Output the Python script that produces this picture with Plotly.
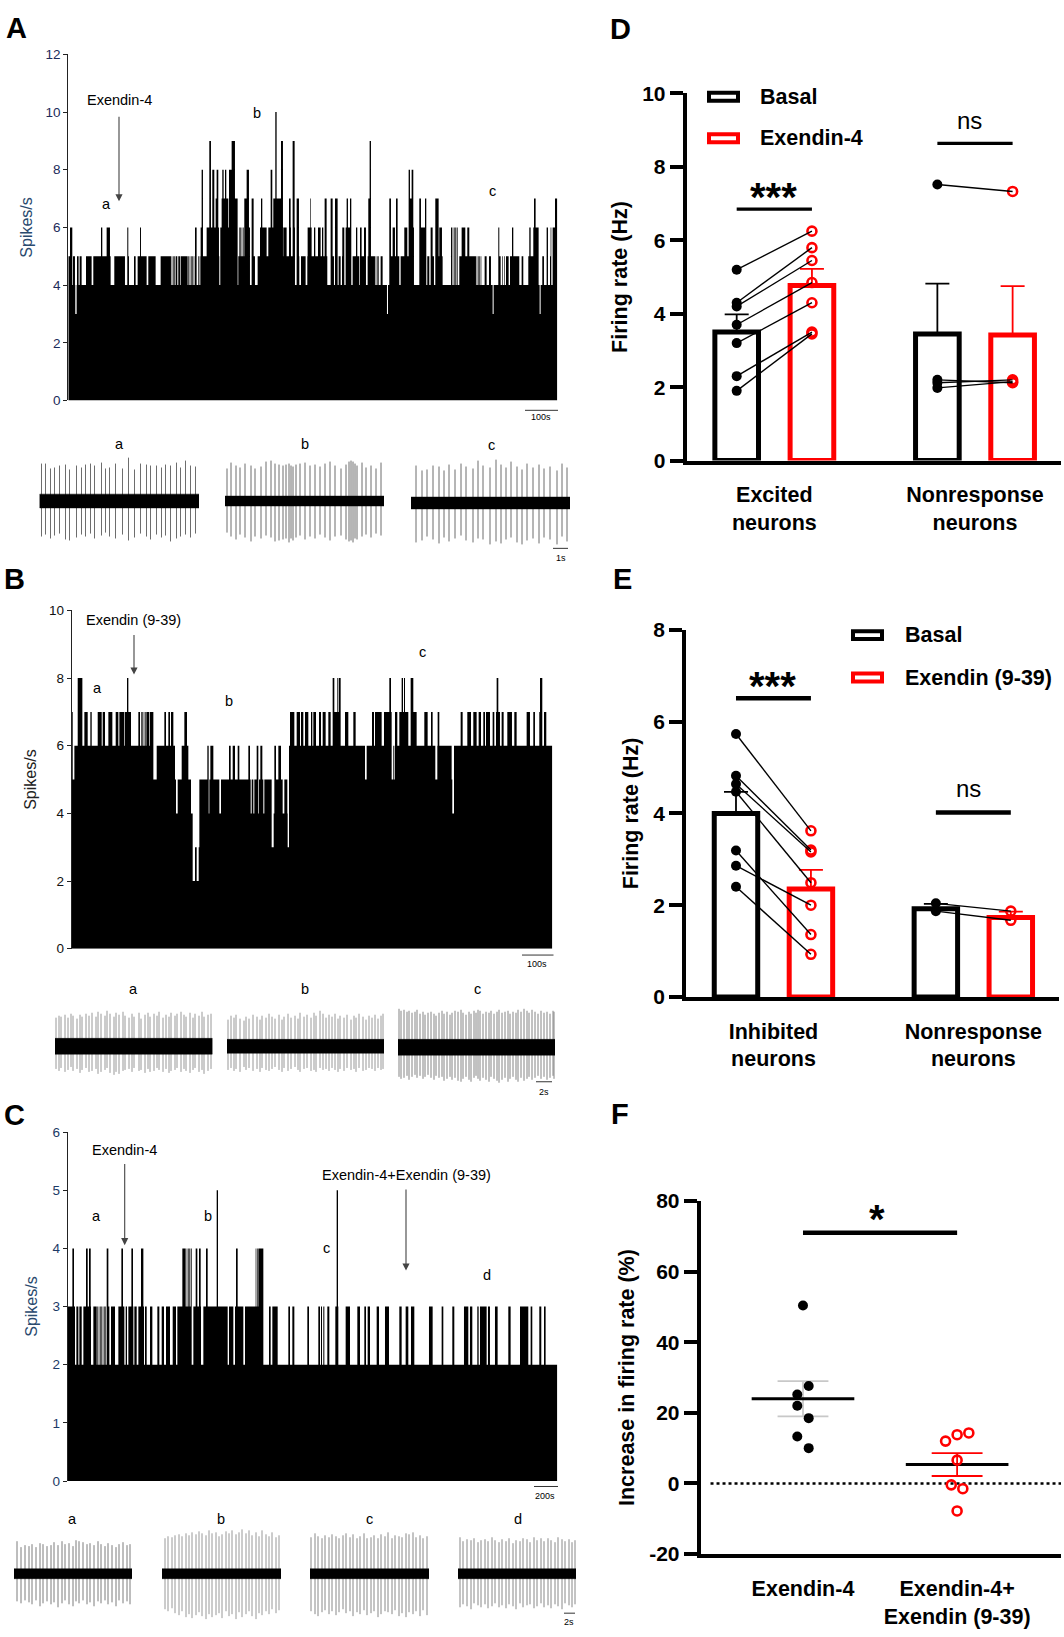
import numpy as np
import plotly.graph_objects as go

W, H = 1064, 1637
FONT = "Liberation Sans"

# ---------- histograms: runs (start, end) of seconds where rate reaches a level
A_BASE = 4
A1_L5 = [(10,22),(24,30),(36,41),(44,50),(63,80),(85,137),(148,180),(187,192),(207,212),(218,245),(250,272),(287,318),(320,322),(324,326),(328,330),(332,337),(340,345),(347,368),(370,372),(374,376),(378,380),(382,384),(386,388),(390,395),(400,402),(404,406),(407,463),(466,518),(520,522),(524,526),(528,530),(532,555),(560,570),(578,690),(695,703),(708,722),(727,750)]
A1_L6 = [(15,22),(108,112),(125,135),(187,190),(225,228),(390,395),(407,413),(425,462),(466,518),(522,524),(526,528),(530,532),(534,536),(538,555),(560,566),(585,605),(610,650),(655,665),(672,678),(683,690),(697,702),(728,740)]
A1_L7 = [(433,438),(452,460),(470,490),(492,512),(512,518),(538,552),(560,566),(588,592),(617,622),(625,650),(672,677),(683,689),(695,702)]
A1_L8 = [(410,414),(433,438),(442,448),(455,460),(472,476),(480,484),(492,510),(545,552),(617,622),(631,635),(648,654),(683,689)]
A1_L9 = [(433,438),(500,510),(631,635),(648,654),(683,689)]
A1_L10 = [(631,635)]
A1_L3 = [(31,35)]
A2_L5 = [(0,52),(62,72),(75,83),(86,92),(96,103),(107,122),(128,148),(153,168),(173,195),(197,199),(201,203),(205,207),(212,218),(240,268),(272,312),(328,348),(352,358),(362,372),(378,398),(424,426),(428,430),(432,434),(436,438),(440,442),(448,498),(500,502),(504,506),(508,510),(512,514),(524,530),(537,543),(568,572),(576,578),(582,584),(588,596),(600,628),(635,640),(655,680),(697,702),(720,724),(728,742)]
A2_L6 = [(0,4),(12,16),(24,32),(36,40),(44,50),(62,68),(75,83),(97,103),(107,122),(138,142),(150,155),(162,168),(175,182),(238,243),(248,255),(258,263),(283,292),(296,312),(328,345),(362,368),(376,385),(388,396),(423,426),(428,430),(432,434),(436,438),(440,443),(455,466),(472,478),(565,568),(606,610),(658,662),(670,686),(710,714),(722,724),(728,742)]
A2_L7 = [(0,2),(44,50),(62,68),(75,83),(110,114),(120,124),(175,182),(238,243),(258,263),(296,310),(328,333),(345,349),(376,386),(672,677),(735,742)]
A2_L8 = [(296,300),(305,310),(179,183)]
A2_L9 = [(179,183)]
A2_L3 = [(231,234),(548,551),(689,692)]

B_BASE = 2
B1_L3 = [(20,383),(390,395),(401,750)]
B1_L4 = [(20,383),(403,620),(626,668),(672,750)]
B1_L5 = [(20,333),(338,378),(403,430),(433,463),(468,557),(560,565),(568,578),(582,595),(598,620),(628,653),(658,667),(672,750)]
B1_L6 = [(20,23),(28,265),(275,330),(350,370),(427,431),(436,445),(492,497),(503,510),(518,523),(550,555),(575,580),(586,592),(628,633),(640,648),(672,750)]
B1_L7 = [(20,23),(38,52),(58,68),(76,80),(98,110),(113,120),(130,142),(152,160),(163,178),(180,198),(220,225),(228,230),(232,234),(236,238),(240,242),(244,252),(254,265),(298,303),(310,315),(318,325),(358,366),(675,688),(695,705),(708,715),(720,730),(735,745)]
B1_L8 = [(38,52),(186,190)]
B2_L3 = [(0,727)]
B2_L4 = [(0,727)]
B2_L5 = [(0,427),(432,727)]
B2_L6 = [(0,165),(170,245),(250,253),(257,376),(382,425),(432,475),(480,727)]
B2_L7 = [(3,7),(10,18),(27,33),(38,47),(55,62),(68,90),(105,115),(130,137),(186,192),(195,215),(222,245),(255,262),(268,295),(302,320),(343,353),(363,368),(383,388),(452,458),(472,483),(490,500),(506,513),(520,525),(528,540),(548,553),(558,570),(575,581),(592,606),(613,620),(650,660),(670,675),(688,697),(702,709)]
B2_L8 = [(68,73),(82,85),(87,92),(238,243),(275,279),(282,285),(302,310),(560,565),(690,697)]

C_BASE = 2
C1_L3 = [(8,30),(34,40),(43,50),(55,65),(68,78),(85,95),(97,99),(101,103),(105,107),(109,111),(113,115),(117,119),(121,123),(125,133),(138,150),(160,178),(182,186),(190,205),(208,215),(220,237),(240,245),(255,262),(277,283),(290,297),(303,315),(323,333),(337,355),(360,380),(385,408),(415,488),(492,505),(510,535),(540,595),(612,617),(622,638),(670,675),(682,688),(727,732)]
C1_L4 = [(22,27),(63,68),(72,77),(125,130),(169,174),(199,204),(228,235),(352,362),(365,367),(369,371),(373,375),(377,380),(392,397),(402,407),(423,428),(455,459),(513,518),(572,574),(576,578),(580,595)]
C1_L5 = [(455,459)]
C2_L3 = [(25,30),(33,36),(40,43),(52,58),(76,85),(107,120),(142,150),(163,168),(173,180),(200,207),(225,237),(268,275),(287,295),(303,313),(357,368),(395,400),(427,433),(462,475),(480,487),(502,506),(510,530),(534,540),(555,563),(595,602),(630,655),(662,667),(688,694),(702,707)]
C2_L4 = [(80,84)]
C2_L5 = [(80,84)]

# ---------- recordings: spike time, up and down amplitude
Aa_t = [2,6,11,15,20,26,30,37,42,46,51,55,62,66,70,76,83,89,95,101,107,111,117,122,126,131,137,141,146,151,156]
Aa_u = [38,38,33,34,36,37,32,36,34,37,38,36,39,33,34,38,33,44,32,38,37,36,36,34,37,36,39,34,41,36,35]
Aa_d = [36,34,38,35,33,39,40,37,34,36,33,38,35,32,36,38,34,40,37,33,36,39,34,37,35,41,38,36,34,37,33]
Ab_t = [2,6,11,15,20,26,30,36,41,46,50,54,58,61,64,66,68,71,75,80,85,90,95,100,105,110,116,121,124,126,128,130,132,137,141,146,151,156]
Ab_u = [33,39,36,34,38,36,33,35,40,41,38,37,36,37,38,36,35,37,38,39,36,37,35,38,40,36,33,37,40,41,40,38,36,39,34,36,33,39]
Ab_d = [32,36,39,34,37,41,36,38,35,37,41,40,39,38,42,38,40,37,35,39,36,38,34,37,40,36,35,39,41,40,42,38,39,36,34,37,33,35]
Ac_t = [5,11,16,22,28,33,38,44,50,55,62,67,72,79,85,90,95,100,106,111,116,122,128,133,139,146,151,156]
Ac_u = [38,33,34,38,37,33,39,34,40,37,35,43,38,36,44,39,36,42,37,34,40,36,39,35,37,33,40,36]
Ac_d = [40,38,34,37,41,35,39,36,33,38,40,36,37,42,39,41,37,35,40,42,38,36,41,35,37,42,34,39]

Ba_t = [1,4,6,10,13,16,18,22,25,27,31,34,37,41,43,46,50,52,55,59,61,64,68,70,74,77,79,84,86,90,93,95,99,102,104,108,111,114,116,120,122,126,129,131,135,138,140,144,147,149,153,156]
Ba_u = [29,31,30,32,29,33,31,28,32,30,33,31,34,30,35,33,31,36,33,30,34,32,35,31,29,33,30,34,28,32,34,30,33,31,35,29,32,30,34,31,33,35,32,30,34,29,33,31,35,30,32,33]
Ba_d = [23,25,22,26,24,21,25,23,27,24,22,26,25,23,28,26,24,22,27,29,26,28,25,24,23,26,22,25,24,27,23,26,25,22,24,26,23,27,25,24,22,26,23,25,27,24,22,26,24,28,25,23]
Bb_t = [1,4,7,9,13,17,19,22,26,30,33,35,39,42,45,48,52,55,57,61,64,68,71,73,77,80,84,87,89,93,96,99,102,105,108,111,113,117,120,124,127,129,132,136,139,142,145,148,151,154,156]
Bb_u = [27,31,29,32,28,26,30,28,32,30,27,31,29,33,30,28,32,27,30,33,29,31,28,34,30,32,29,34,31,36,33,29,32,30,33,28,31,29,32,27,31,29,33,30,27,31,29,32,28,31,33]
Bb_d = [24,22,25,23,26,21,24,22,25,23,26,22,24,25,23,21,24,26,22,25,23,21,24,26,23,22,25,24,26,22,24,23,25,22,24,26,23,25,22,24,23,26,22,25,24,22,23,25,22,24,23]
Bc_t = [1,3,6,9,11,14,17,19,22,25,27,30,33,36,38,41,44,46,49,52,54,57,60,63,65,68,71,73,76,78,80,82,85,88,91,93,96,99,101,104,107,110,112,115,118,120,123,126,129,131,134,137,140,143,146,149,152,155,156]
Bc_u = [39,37,38,36,37,35,36,38,34,36,33,35,36,34,32,35,37,34,36,33,35,37,36,38,35,33,36,34,37,35,38,37,34,36,35,37,34,36,38,35,36,37,34,36,35,38,36,39,37,35,38,36,34,37,35,36,34,37,36]
Bc_d = [30,32,31,29,33,30,28,31,29,32,30,28,31,33,29,31,30,34,32,30,33,31,34,35,32,30,33,35,31,29,32,34,31,33,35,30,32,34,36,33,31,35,32,30,33,35,31,34,32,30,33,31,29,32,30,33,31,29,32]

Ca_t = [3,7,11,15,18,22,26,29,33,37,40,44,48,51,55,59,62,65,69,73,76,80,84,87,91,94,98,102,105,109,113,116]
Ca_u = [33,27,29,28,30,27,31,30,28,29,32,29,33,30,31,28,34,33,32,30,31,29,33,30,28,31,29,27,30,32,29,30]
Ca_d = [28,30,27,29,31,27,33,30,28,31,29,34,30,27,31,33,28,30,27,31,29,33,28,30,27,31,29,33,27,30,28,31]
Cb_t = [3,6,10,13,17,20,24,27,30,34,37,40,44,47,50,54,57,60,64,67,70,74,77,80,84,87,90,94,97,100,104,107,110,114,117]
Cb_u = [36,38,37,39,40,38,41,39,42,40,43,41,39,44,41,42,38,40,43,41,44,40,42,45,41,44,39,42,38,44,40,38,42,37,39]
Cb_d = [36,38,35,40,42,38,44,41,45,42,39,43,46,41,44,42,40,45,38,43,41,46,39,44,41,38,43,46,40,42,38,41,36,40,37]
Cc_t = [1,5,8,12,15,19,22,26,29,33,36,40,43,47,50,54,57,61,64,68,71,75,78,82,85,89,92,96,99,103,106,110,113,117]
Cc_u = [37,41,38,36,39,37,40,38,36,39,41,37,40,36,38,41,36,37,39,36,40,38,42,36,39,38,37,41,40,42,37,39,36,38]
Cc_d = [38,41,43,39,37,41,38,42,39,36,40,38,43,39,41,37,42,40,38,44,41,38,39,41,37,43,40,44,39,41,38,43,37,42]
Cd_t = [2,5,9,13,16,20,23,27,30,34,37,41,44,48,51,55,58,62,65,69,72,76,79,83,86,90,93,97,100,104,107,111,114,117]
Cd_u = [37,33,35,34,36,32,34,35,33,37,34,32,35,33,36,31,34,33,36,35,32,37,34,36,33,36,34,32,37,35,33,35,32,34]
Cd_d = [34,31,33,36,30,32,34,31,35,33,30,34,32,35,31,33,36,30,34,32,31,35,33,30,34,32,35,31,33,36,30,32,34,31]

# ---------- panel D
D_groups = ["Excited<br>neurons", "Nonresponse<br>neurons"]
D_basal_mean = [3.5, 3.45]
D_basal_sem = [0.48, 1.37]
D_drug_mean = [4.77, 3.42]
D_drug_sem = [0.45, 1.33]
D_exc_basal = [5.2, 4.3, 4.2, 3.7, 3.2, 2.3, 1.9]
D_exc_drug = [6.25, 5.8, 5.45, 4.85, 4.3, 3.5, 3.45]
D_nr_basal = [7.52, 2.2, 2.12, 1.98]
D_nr_drug = [7.33, 2.12, 2.2, 2.15]
# ---------- panel E
E_groups = ["Inhibited<br>neurons", "Nonresponse<br>neurons"]
E_basal_mean = [4.0, 1.92]
E_basal_sem = [0.47, 0.11]
E_drug_mean = [2.35, 1.73]
E_drug_sem = [0.42, 0.13]
E_inh_basal = [5.73, 4.82, 4.64, 4.47, 3.19, 2.86, 2.40]
E_inh_drug = [3.62, 3.2, 3.16, 2.49, 1.36, 2.0, 0.93]
E_nr_basal = [2.04, 1.87]
E_nr_drug = [1.87, 1.67]
# ---------- panel F
F_groups = ["Exendin-4", "Exendin-4+<br>Exendin (9-39)"]
F_a_x = [0, 0.037, -0.037, -0.037, 0.037, -0.037, 0.037]
F_a_y = [50.4, 27.6, 25.2, 22, 18.5, 13.3, 10]
F_b_x = [0.925, 1, 1.076, 1, 0.962, 1.037, 1]
F_b_y = [12, 13.8, 14.3, 6.6, -0.4, -1.5, -7.8]
F_means = [24, 5.4]
F_sem_hi = [29, 8.6]
F_sem_lo = [19, 2.1]
RED = "#ff0000"

def fx(x): return x / W
def fy(y): return 1 - y / H

fig = go.Figure()
axes = {}
n_axes = 0
def new_axes(x0, x1, y_top, y_bot, xopt, yopt):
    global n_axes
    n_axes += 1
    s = "" if n_axes == 1 else str(n_axes)
    axes["xaxis" + s] = dict(domain=[fx(x0), fx(x1)], anchor="y" + s, **xopt)
    axes["yaxis" + s] = dict(domain=[fy(y_bot), fy(y_top)], anchor="x" + s, **yopt)
    return "x" + s, "y" + s

def levels(n, base, parts):
    y = np.full(n, base, dtype=float)
    for off, level, runs in parts:
        for s, e in runs:
            a, b = max(s + off, 0), min(e + off, n)
            if level < base or level <= y[a:b].min() and False:
                y[a:b] = level
            else:
                y[a:b] = np.maximum(y[a:b], level)
    return y

def hist_panel(x0, x1, top, bot, ymax, dtick, n, y, title, tickcol, titlecol, standoff):
    xo = dict(range=[0, n], visible=False, fixedrange=True)
    yo = dict(range=[0, ymax], dtick=dtick, showline=True, linecolor="#222", linewidth=1,
              ticks="outside", ticklen=4, tickcolor="#222", showgrid=False, zeroline=False,
              tickfont=dict(family=FONT, size=13.5, color=tickcol),
              title=dict(text=title, font=dict(family=FONT, size=16, color=titlecol), standoff=standoff))
    xa, ya = new_axes(x0, x1, top, bot, xo, yo)
    fig.add_trace(go.Scatter(x=np.arange(n + 1), y=np.append(y, y[-1]), mode="lines", xaxis=xa, yaxis=ya,
                             line=dict(shape="hv", width=0, color="black"), fill="tozeroy",
                             fillcolor="black", showlegend=False, hoverinfo="skip"))

# A
nA = 1467
yA = levels(nA, A_BASE, [(-10, 5, A1_L5), (-10, 6, A1_L6), (-10, 7, A1_L7), (-10, 8, A1_L8), (-10, 9, A1_L9), (-10, 10, A1_L10),
                         (725, 5, A2_L5), (725, 6, A2_L6), (725, 7, A2_L7), (725, 8, A2_L8), (725, 9, A2_L9)])
for off, runs in [(-10, A1_L3), (725, A2_L3)]:
    for s, e in runs:
        yA[s + off:e + off] = 3
hist_panel(68.3, 557.3, 43, 394, 12, 2, nA, yA, "Spikes/s", "#1c2b5a", "#2a4a6e", 8)
# B
nB = 1442
yB = levels(nB, B_BASE, [(-20, 3, B1_L3), (-20, 4, B1_L4), (-20, 5, B1_L5), (-20, 6, B1_L6), (-20, 7, B1_L7), (-20, 8, B1_L8)])
yB2 = levels(nB, B_BASE, [(715, 3, B2_L3), (715, 4, B2_L4), (715, 5, B2_L5), (715, 6, B2_L6), (715, 7, B2_L7), (715, 8, B2_L8)])
yB[715:] = yB2[715:]
hist_panel(71.7, 552.3, 607, 950, 10, 2, nB, yB, "Spikes/s", "#111", "#222", 8)
# C
nC = 1469
yC = levels(nC, C_BASE, [(-8, 3, C1_L3), (-8, 4, C1_L4), (-8, 5, C1_L5), (727, 3, C2_L3), (727, 4, C2_L4), (727, 5, C2_L5)])
hist_panel(67.7, 557.3, 1136, 1490, 6, 1, nC, yC, "Spikes/s", "#1c3a66", "#2a4a6e", 10)

# recordings
def rec_panel(x0, x1, cy, band, t, u, d, color):
    w = x1 - x0
    xa, ya = new_axes(x0, x1, cy - 50, cy + 50, dict(range=[0, w], visible=False, fixedrange=True),
                      dict(range=[-50, 50], visible=False, fixedrange=True))
    xs, ys = [], []
    for ti, ui, di in zip(t, u, d):
        xs += [ti, ti, None]
        ys += [ui, -di, None]
    fig.add_trace(go.Scatter(x=xs, y=ys, mode="lines", xaxis=xa, yaxis=ya, line=dict(color=color, width=0.9),
                             showlegend=False, hoverinfo="skip"))
    fig.add_trace(go.Scatter(x=[0, w, w, 0, 0], y=[band, band, -band, -band, band], mode="lines", xaxis=xa, yaxis=ya,
                             line=dict(color="black", width=0.5), fill="toself", fillcolor="black",
                             showlegend=False, hoverinfo="skip"))

rec_panel(39.5, 199, 496, 7, Aa_t, Aa_u, Aa_d, "#5c5c5c")
rec_panel(225, 384, 496, 5, Ab_t, Ab_u, Ab_d, "#5c5c5c")
rec_panel(411, 570, 498, 6, Ac_t, Ac_u, Ac_d, "#5c5c5c")
rec_panel(55, 212.5, 1049, 8, Ba_t, Ba_u, Ba_d, "#8c8c8c")
rec_panel(227, 384, 1049, 7, Bb_t, Bb_u, Bb_d, "#8c8c8c")
rec_panel(398, 555, 1050, 8, Bc_t, Bc_u, Bc_d, "#777777")
rec_panel(14, 132, 1584, 5, Ca_t, Ca_u, Ca_d, "#6e6e6e")
rec_panel(162, 281, 1584, 5, Cb_t, Cb_u, Cb_d, "#8c8c8c")
rec_panel(310, 429, 1584, 5, Cc_t, Cc_u, Cc_d, "#7c7c7c")
rec_panel(458, 576, 1584, 5, Cd_t, Cd_u, Cd_d, "#7c7c7c")

BOLD = dict(family=FONT, size=21.5, color="black", weight=700)
def bold_axis_common():
    return dict(showline=True, linecolor="black", linewidth=3.5, showgrid=False, zeroline=False, fixedrange=True)

def bar_panel(x0, x1, top, bot, ymax, dtick, rng, groups, bm, bs, dm, ds, pairs, title):
    xo = dict(range=rng, tickmode="array", tickvals=[0.5, 3.167], ticktext=groups, ticks="outside", ticklen=12,
              tickcolor="rgba(0,0,0,0)", tickfont=BOLD, **bold_axis_common())
    yo = dict(range=[0, ymax], dtick=dtick, ticks="outside", ticklen=13, tickwidth=3.5, tickcolor="black",
              tickfont=dict(family=FONT, size=21, color="black", weight=700),
              title=dict(text=title, font=BOLD, standoff=10), **bold_axis_common())
    xa, ya = new_axes(x0, x1, top, bot, xo, yo)
    for xs, m, s, c in [([0, 2.667], bm, bs, "black"), ([1, 3.667], dm, ds, RED)]:
        fig.add_trace(go.Bar(x=xs, y=m, width=0.58, xaxis=xa, yaxis=ya, marker=dict(color="rgba(255,255,255,0)", line=dict(color=c, width=5)),
                             error_y=dict(type="data", symmetric=False, array=s, arrayminus=[0, 0], color=c, thickness=1.8, width=12),
                             showlegend=False, hoverinfo="skip"))
    for x_a, x_b, ya_vals, yb_vals in pairs:
        lx, ly = [], []
        for a, b in zip(ya_vals, yb_vals):
            lx += [x_a, x_b, None]
            ly += [a, b, None]
        fig.add_trace(go.Scatter(x=[x_b] * len(yb_vals), y=yb_vals, mode="markers", xaxis=xa, yaxis=ya,
                                 marker=dict(size=9, color="rgba(255,255,255,0)", line=dict(color=RED, width=2.6)), showlegend=False, hoverinfo="skip"))
        fig.add_trace(go.Scatter(x=[x_a] * len(ya_vals), y=ya_vals, mode="markers", xaxis=xa, yaxis=ya,
                                 marker=dict(size=10, color="black"), showlegend=False, hoverinfo="skip"))
        fig.add_trace(go.Scatter(x=lx, y=ly, mode="lines", xaxis=xa, yaxis=ya, line=dict(color="black", width=1.4),
                                 showlegend=False, hoverinfo="skip"))
    return xa, ya

def sig(xa, ya, x0, x1, y, width):
    fig.add_trace(go.Scatter(x=[x0, x1], y=[y, y], mode="lines", xaxis=xa, yaxis=ya, line=dict(color="black", width=width),
                             showlegend=False, hoverinfo="skip"))

xa, ya = bar_panel(686.5, 1061, 82.6, 455, 10, 2, [-0.667, 4.31], D_groups, D_basal_mean, D_basal_sem, D_drug_mean, D_drug_sem,
                   [(0, 1, D_exc_basal, D_exc_drug), (2.667, 3.667, D_nr_basal, D_nr_drug)], "Firing rate (Hz)")
sig(xa, ya, 0, 1, 6.85, 3.2); sig(xa, ya, 2.667, 3.667, 8.64, 3.2)
xa, ya = bar_panel(686, 1059, 626.6, 999, 8, 2, [-0.667, 4.31], E_groups, E_basal_mean, E_basal_sem, E_drug_mean, E_drug_sem,
                   [(0, 1, E_inh_basal, E_inh_drug), (2.667, 3.667, E_nr_basal, E_nr_drug)], "Firing rate (Hz)")
sig(xa, ya, 0, 1, 6.51, 4.5); sig(xa, ya, 2.667, 3.667, 4.02, 4.5)

# F
xo = dict(range=[-0.665, 1.674], tickmode="array", tickvals=[0, 1], ticktext=F_groups, ticks="outside", ticklen=12,
          tickcolor="rgba(0,0,0,0)", tickfont=BOLD, **bold_axis_common())
yo = dict(range=[-20, 80], tickmode="array", tickvals=[-20, 0, 20, 40, 60, 80], ticktext=["-20", "0", "20", "40", "60", "80"],
          ticks="outside", ticklen=13, tickwidth=3.5, tickcolor="black", tickfont=dict(family=FONT, size=21, color="black", weight=700),
          title=dict(text="Increase in firing rate (%)", font=BOLD, standoff=10), **bold_axis_common())
xa, ya = new_axes(700.5, 1061, 1206, 1564, xo, yo)
def fl(xs, ys, c, w, dash="solid"):
    fig.add_trace(go.Scatter(x=xs, y=ys, mode="lines", xaxis=xa, yaxis=ya, line=dict(color=c, width=w, dash=dash),
                             showlegend=False, hoverinfo="skip"))
fl([-0.6, 1.674], [0, 0], "black", 2.6, "dot")
for i, c in enumerate(["#c8c8c8", RED]):
    fl([i - 0.165, i + 0.165], [F_sem_hi[i]] * 2, c, 1.8)
    fl([i - 0.165, i + 0.165], [F_sem_lo[i]] * 2, c, 1.8)
    fl([i, i], [F_sem_lo[i], F_sem_hi[i]], c, 1.8)
    fl([i - 0.333, i + 0.333], [F_means[i]] * 2, "black", 3)
fig.add_trace(go.Scatter(x=F_a_x, y=F_a_y, mode="markers", xaxis=xa, yaxis=ya, marker=dict(size=10, color="black"), showlegend=False, hoverinfo="skip"))
fig.add_trace(go.Scatter(x=F_b_x, y=F_b_y, mode="markers", xaxis=xa, yaxis=ya,
                         marker=dict(size=9, color="rgba(255,255,255,0)", line=dict(color=RED, width=2.6)), showlegend=False, hoverinfo="skip"))
fl([0, 1], [71, 71], "black", 4.5)

# ---------- text, arrows, scale bars, legends
ann = []
shapes = []
def txt(x, y, s, size=14.5, color="black", weight=400, xanchor="center"):
    ann.append(dict(x=fx(x), y=fy(y), xref="paper", yref="paper", text=s, showarrow=False, xanchor=xanchor, yanchor="middle",
                    font=dict(family=FONT, size=size, color=color, weight=weight)))
def arrow(x, y0, y1, color="#444444"):
    ann.append(dict(x=fx(x), y=fy(y1), xref="paper", yref="paper", text="", showarrow=True, ax=0, ay=y0 - y1,
                    arrowhead=2, arrowsize=1.3, arrowwidth=1.1, arrowcolor=color, standoff=0))
def hline(x0, x1, y, w=1, c="#333333"):
    shapes.append(dict(type="line", xref="paper", yref="paper", x0=fx(x0), x1=fx(x1), y0=fy(y), y1=fy(y), line=dict(color=c, width=w)))
def swatch(x0, x1, y, c):
    shapes.append(dict(type="rect", xref="paper", yref="paper", x0=fx(x0), x1=fx(x1), y0=fy(y - 4), y1=fy(y + 4),
                       line=dict(color=c, width=4), fillcolor="white"))

for s, x, y in [("A", 16, 16), ("B", 14, 575), ("C", 14, 1119), ("D", 620, 17), ("E", 622, 575), ("F", 620, 1118)]:
    txt(x, y, s, size=29, weight=700)

txt(119, 89, "Exendin-4"); arrow(119, 106, 192)
txt(106, 195, "a"); txt(257, 102, "b"); txt(492, 182, "c")
txt(119, 438, "a"); txt(305, 438, "b"); txt(491, 439, "c")
hline(525, 558, 404); txt(541, 411, "100s", size=9)
hline(553, 568, 544); txt(561, 554, "1s", size=9)

txt(133.5, 617, "Exendin (9-39)"); arrow(134, 631, 672)
txt(97, 686, "a"); txt(229, 699, "b"); txt(422, 649, "c")
txt(133.5, 991, "a"); txt(305, 991, "b"); txt(477, 991, "c")
hline(522, 553.5, 956.5); txt(537, 966, "100s", size=9)
hline(536, 552, 1085); txt(544, 1095, "2s", size=9)

txt(124, 1154.5, "Exendin-4"); arrow(124.7, 1168, 1250.7)
txt(406, 1180, "Exendin-4+Exendin (9-39)"); arrow(406, 1194, 1276.5)
txt(96.7, 1221, "a"); txt(207.5, 1221, "b"); txt(326, 1254, "c"); txt(487, 1281, "d")
txt(72.5, 1528, "a"); txt(220.5, 1528, "b"); txt(369, 1528, "c"); txt(517.5, 1528, "d")
hline(534, 558, 1495.5); txt(545, 1505, "200s", size=9)
hline(564, 575, 1624); txt(569, 1633, "2s", size=9)

swatch(709, 738, 86, "black"); swatch(709, 738, 128, RED)
txt(758, 86, "Basal", size=21.5, weight=700, xanchor="left")
txt(758, 128, "Exendin-4", size=21.5, weight=700, xanchor="left")
swatch(853, 882, 632, "black"); swatch(853, 882, 675, RED)
txt(903, 632, "Basal", size=21.5, weight=700, xanchor="left")
txt(903, 675, "Exendin (9-39)", size=21.5, weight=700, xanchor="left")

txt(773, 188, "***", size=40, weight=700); txt(969, 110, "ns", size=24)
txt(772, 684, "***", size=40, weight=700); txt(968, 788, "ns", size=24)
txt(877, 1224, "*", size=40, weight=700)

fig.update_layout(width=W, height=H, margin=dict(l=0, r=0, t=0, b=0), autosize=False,
                  paper_bgcolor="white", plot_bgcolor="rgba(0,0,0,0)", showlegend=False, barmode="overlay",
                  font=dict(family=FONT), annotations=ann, shapes=shapes, **axes)
fig.write_html("out.html", config=dict(displayModeBar=False), post_script="document.body.style.margin='0';")
